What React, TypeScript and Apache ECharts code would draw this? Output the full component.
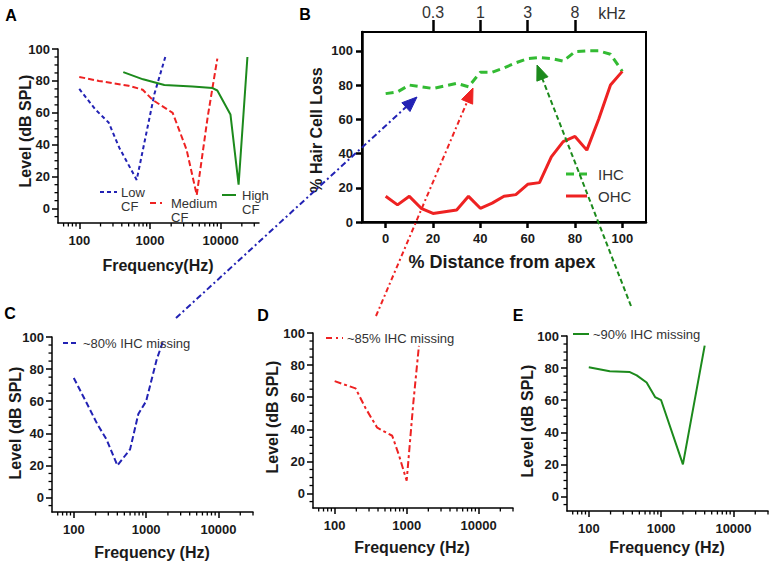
import React, { useEffect, useRef } from "react";
import * as echarts from "echarts";

const FONT = "'Liberation Sans', Arial, Helvetica, sans-serif";
const BLUE = "#2222b4";
const RED = "#ee2222";
const DKGREEN = "#1c8a1c";
const LTGREEN = "#33bb33";
const TXT = "#1a1a1a";

// ---------- Panel A: tuning curves (frequency in Hz, level in dB SPL)
const lowCfFreq = [100, 170, 260, 370, 650, 1160, 1650];
const lowCfLevel = [75, 62, 54, 38, 18, 72, 95];
const medCfFreq = [100, 190, 500, 790, 1100, 2100, 3300, 4600, 6600, 9000];
const medCfLevel = [82.5, 80, 77, 74.5, 68, 60, 37, 8.5, 58, 94];
const highCfFreq = [420, 800, 1600, 4000, 7700, 9000, 13800, 18000, 24000];
const highCfLevel = [85.5, 81, 77.5, 76.5, 75.5, 74, 59, 15, 95];

// ---------- Panel B: cochleogram
const distance = [0, 5, 10, 15, 20, 25, 30, 35, 40, 45, 50, 55, 60, 65, 70, 75, 80, 85, 90, 95, 100];
const ihcLoss = [75, 76, 80, 79, 78, 79.5, 81, 79, 87.5, 87.5, 90, 93, 95.5, 96, 95.5, 94, 99.5, 100, 100, 98, 88];
const ohcLoss = [15, 10, 15, 8, 5, 6, 7, 15, 8, 11, 15, 16, 22, 23, 38, 47, 50, 42, 60, 80, 88];
const distanceTicks = [0, 20, 40, 60, 80, 100];
const lossTicks = [0, 20, 40, 60, 80, 100];
const kHzTickPos = [20, 40, 60, 80];
const kHzTickLabels = ["0.3", "1", "3", "8"];

// ---------- Panels C, D, E
const cFreq = [100, 150, 210, 285, 400, 600, 780, 1000, 1400, 1700];
const cLevel = [74.5, 59, 46, 36, 20, 30, 52, 60, 86, 97];
const dFreq = [100, 195, 270, 390, 630, 780, 1000, 1240, 1480];
const dLevel = [70, 65.5, 53, 41, 36, 24, 8, 57, 92];
const eFreq = [100, 195, 370, 460, 630, 825, 1000, 2000, 4000];
const eLevel = [80.5, 78, 77.5, 75.5, 71, 62, 60, 20, 94];

// ---------- tick values
const levelTicks = [0, 20, 40, 60, 80, 100];
const levelMinorTicks = [-5, 5, 10, 15, 25, 30, 35, 45, 50, 55, 65, 70, 75, 85, 90, 95];
const freqTicks = [100, 1000, 10000];
const freqMinorTicks = [60, 70, 80, 90, 200, 300, 400, 500, 600, 700, 800, 900, 2000, 3000, 4000, 5000, 6000, 7000, 8000, 9000, 20000, 30000];

const LEVEL_MIN = -9;
const FREQ_MIN = 50;

const lg = (v: number) => Math.log10(v);
const pts = (xs: number[], ys: number[], fx: (v: number) => number = (v) => v) =>
  xs.map((x, i) => [fx(x), ys[i]]);

function freqAxis(gridIndex: number, maxHz: number) {
  const line = { color: "#000", width: 1.5 };
  return {
    type: "value", gridIndex, min: lg(FREQ_MIN), max: lg(maxHz), position: "bottom",
    axisLine: { show: true, onZero: false, lineStyle: line },
    axisTick: { show: true, customValues: freqTicks.map(lg), length: 6, lineStyle: line },
    axisLabel: {
      show: true, customValues: freqTicks.map(lg),
      formatter: (v: number) => String(Math.round(Math.pow(10, v))),
      margin: 11, fontSize: 13, fontWeight: "bold", color: TXT, fontFamily: FONT,
    },
    splitLine: { show: false },
  };
}

function levelAxis(gridIndex: number) {
  const line = { color: "#000", width: 1.5 };
  return {
    type: "value", gridIndex, min: LEVEL_MIN, max: 100, position: "left",
    axisLine: { show: true, onZero: false, lineStyle: line },
    axisTick: { show: true, customValues: levelTicks, length: 6, lineStyle: line },
    axisLabel: { show: true, customValues: levelTicks, margin: 8, fontSize: 13, fontWeight: "bold", color: TXT, fontFamily: FONT },
    splitLine: { show: false },
  };
}

// minor ticks drawn through the axes' own scales
function minorTicks(xAxisIndex: number, yAxisIndex: number, maxHz: number) {
  const xVals = freqMinorTicks.filter((f) => f <= maxHz).map((f) => [lg(f), LEVEL_MIN, 0]);
  const yVals = levelMinorTicks.map((v) => [lg(FREQ_MIN), v, 1]);
  return {
    type: "custom", xAxisIndex, yAxisIndex, silent: true, clip: false, z: 5,
    data: [...xVals, ...yVals],
    renderItem: (_p: any, api: any) => {
      const p = api.coord([api.value(0), api.value(1)]);
      const isX = api.value(2) === 0;
      return {
        type: "line",
        shape: isX
          ? { x1: p[0], y1: p[1], x2: p[0], y2: p[1] + 3.5 }
          : { x1: p[0], y1: p[1], x2: p[0] - 3.5, y2: p[1] },
        style: { stroke: "#000", lineWidth: 1.3 },
      };
    },
  };
}

function txt(text: string, x: number, y: number, opts: any = {}) {
  const { size = 13, weight = "normal", align = "left", rotation = 0, color = TXT } = opts;
  return {
    type: "text", x, y, rotation, z: 100,
    style: {
      text, fill: color, fontSize: size, fontWeight: weight, fontFamily: FONT,
      textAlign: align, align, textVerticalAlign: "middle", verticalAlign: "middle",
    },
  };
}

function seg(x1: number, y1: number, x2: number, y2: number, stroke: string, width: number, dash?: number[]) {
  return {
    type: "line", z: 100,
    shape: { x1, y1, x2, y2 },
    style: { stroke, lineWidth: width, lineDash: dash || null },
  };
}

function arrow(x1: number, y1: number, x2: number, y2: number, color: string, dash: number[]) {
  const dx = x2 - x1, dy = y2 - y1;
  const len = Math.sqrt(dx * dx + dy * dy);
  const ux = dx / len, uy = dy / len;
  const px = -uy, py = ux;
  const L = 15, W = 6;
  const bx = x2 - ux * L, by = y2 - uy * L;
  return [
    seg(x1, y1, bx + ux * 2, by + uy * 2, color, 2, dash),
    {
      type: "polygon", z: 100,
      shape: { points: [[x2, y2], [bx + px * W, by + py * W], [bx - px * W, by - py * W]] },
      style: { fill: color, stroke: color, lineWidth: 1 },
    },
  ];
}

export default function App() {
  const ref = useRef<HTMLDivElement>(null);
  useEffect(() => {
    document.body.style.margin = "0";
    const chart = echarts.init(ref.current!, null, { renderer: "svg" });
    const bLine = { color: "#000", width: 2.5 };

    const option: any = {
      animation: false,
      backgroundColor: "#fff",
      grid: [
        { left: 58, top: 49, width: 201, height: 174 },
        { left: 362, top: 32, width: 284, height: 190, show: true, borderColor: "#000", borderWidth: 2, backgroundColor: "transparent" },
        { left: 52, top: 337, width: 201, height: 175 },
        { left: 313, top: 333, width: 200, height: 175 },
        { left: 567, top: 336, width: 201, height: 175 },
      ],
      xAxis: [
        freqAxis(0, 35000),
        {
          type: "value", gridIndex: 1, min: -10, max: 110, position: "bottom",
          axisLine: { show: true, onZero: false, lineStyle: bLine },
          axisTick: { show: true, customValues: distanceTicks, length: 6, lineStyle: bLine },
          axisLabel: { show: true, customValues: distanceTicks, margin: 10, fontSize: 13, fontWeight: "bold", color: TXT, fontFamily: FONT },
          splitLine: { show: false },
        },
        {
          type: "value", gridIndex: 1, min: -10, max: 110, position: "top",
          axisLine: { show: true, onZero: false, lineStyle: { color: "#000", width: 2 } },
          axisTick: { show: true, customValues: kHzTickPos, length: 12, lineStyle: bLine },
          axisLabel: {
            show: true, customValues: kHzTickPos, margin: 12, fontSize: 16, color: "#333", fontFamily: FONT,
            formatter: (v: number) => kHzTickLabels[kHzTickPos.indexOf(Math.round(v))] ?? "",
          },
          splitLine: { show: false },
        },
        freqAxis(2, 30000),
        freqAxis(3, 30000),
        freqAxis(4, 30000),
      ],
      yAxis: [
        levelAxis(0),
        {
          type: "value", gridIndex: 1, min: 0, max: 111, position: "left",
          axisLine: { show: true, onZero: false, lineStyle: bLine },
          axisTick: { show: true, customValues: lossTicks, length: 6, lineStyle: bLine },
          axisLabel: { show: true, customValues: lossTicks, margin: 9, fontSize: 13, fontWeight: "bold", color: TXT, fontFamily: FONT },
          splitLine: { show: false },
        },
        levelAxis(2),
        levelAxis(3),
        levelAxis(4),
      ],
      series: [
        { name: "Low CF", type: "line", xAxisIndex: 0, yAxisIndex: 0, data: pts(lowCfFreq, lowCfLevel, lg), showSymbol: false, symbol: "none", lineStyle: { color: BLUE, width: 2, type: [4, 3] } },
        { name: "Medium CF", type: "line", xAxisIndex: 0, yAxisIndex: 0, data: pts(medCfFreq, medCfLevel, lg), showSymbol: false, symbol: "none", lineStyle: { color: RED, width: 2, type: [6, 3] } },
        { name: "High CF", type: "line", xAxisIndex: 0, yAxisIndex: 0, data: pts(highCfFreq, highCfLevel, lg), showSymbol: false, symbol: "none", lineStyle: { color: DKGREEN, width: 2 } },
        { name: "IHC", type: "line", xAxisIndex: 2, yAxisIndex: 1, data: pts(distance, ihcLoss), showSymbol: false, symbol: "none", lineStyle: { color: LTGREEN, width: 3, type: [8, 5] } },
        { name: "OHC", type: "line", xAxisIndex: 2, yAxisIndex: 1, data: pts(distance, ohcLoss), showSymbol: false, symbol: "none", lineStyle: { color: RED, width: 3 } },
        { name: "~80% IHC missing", type: "line", xAxisIndex: 3, yAxisIndex: 2, data: pts(cFreq, cLevel, lg), showSymbol: false, symbol: "none", lineStyle: { color: BLUE, width: 2, type: [6, 3] } },
        { name: "~85% IHC missing", type: "line", xAxisIndex: 4, yAxisIndex: 3, data: pts(dFreq, dLevel, lg), showSymbol: false, symbol: "none", lineStyle: { color: RED, width: 2, type: [7, 3, 3, 3] } },
        { name: "~90% IHC missing", type: "line", xAxisIndex: 5, yAxisIndex: 4, data: pts(eFreq, eLevel, lg), showSymbol: false, symbol: "none", lineStyle: { color: DKGREEN, width: 2 } },
        minorTicks(0, 0, 35000),
        minorTicks(3, 2, 30000),
        minorTicks(4, 3, 30000),
        minorTicks(5, 4, 30000),
      ],
      graphic: [
        // panel letters
        txt("A", 11, 15, { size: 16, weight: "bold", align: "center", color: "#000" }),
        txt("B", 305, 14, { size: 16, weight: "bold", align: "center", color: "#000" }),
        txt("C", 10, 313, { size: 16, weight: "bold", align: "center", color: "#000" }),
        txt("D", 263, 315, { size: 16, weight: "bold", align: "center", color: "#000" }),
        txt("E", 518, 315, { size: 16, weight: "bold", align: "center", color: "#000" }),
        // axis titles
        txt("Level (dB SPL)", 25, 131, { size: 16, weight: "bold", align: "center", rotation: Math.PI / 2 }),
        txt("Frequency(Hz)", 158, 265, { size: 16, weight: "bold", align: "center" }),
        txt("% Hair Cell Loss", 316, 130, { size: 16, weight: "bold", align: "center", rotation: Math.PI / 2 }),
        txt("% Distance from apex", 502, 262, { size: 18, weight: "bold", align: "center" }),
        txt("kHz", 612, 13, { size: 16, align: "center", color: "#333" }),
        txt("Level (dB SPL)", 15, 423, { size: 16, weight: "bold", align: "center", rotation: Math.PI / 2 }),
        txt("Frequency (Hz)", 152, 552, { size: 16, weight: "bold", align: "center" }),
        txt("Level (dB SPL)", 272, 417, { size: 16, weight: "bold", align: "center", rotation: Math.PI / 2 }),
        txt("Frequency (Hz)", 412, 547, { size: 16, weight: "bold", align: "center" }),
        txt("Level (dB SPL)", 527, 421, { size: 16, weight: "bold", align: "center", rotation: Math.PI / 2 }),
        txt("Frequency (Hz)", 667, 547, { size: 16, weight: "bold", align: "center" }),
        // legend A
        seg(100, 192, 117, 192, BLUE, 2, [4, 3]),
        txt("Low", 121, 192, { color: "#333" }),
        txt("CF", 121, 206, { color: "#333" }),
        seg(150, 203, 164, 203, RED, 2, [6, 4, 2, 4]),
        txt("Medium", 171, 203, { color: "#333" }),
        txt("CF", 171, 217, { color: "#333" }),
        seg(222, 195, 236, 195, DKGREEN, 2),
        txt("High", 242, 195, { color: "#333" }),
        txt("CF", 242, 209, { color: "#333" }),
        // legend B
        seg(566, 174, 587, 174, LTGREEN, 3, [8, 5]),
        txt("IHC", 598, 174, { size: 15, color: "#333" }),
        seg(566, 196, 587, 196, RED, 3),
        txt("OHC", 598, 196, { size: 15, color: "#333" }),
        // legends C, D, E
        seg(63, 343, 79, 343, BLUE, 2, [5, 3]),
        txt("~80% IHC missing", 83, 343, { size: 13, color: "#333" }),
        seg(326, 338, 343, 338, RED, 2, [6, 4, 2, 4]),
        txt("~85% IHC missing", 347, 338, { size: 13, color: "#333" }),
        seg(573, 334, 589, 334, DKGREEN, 2),
        txt("~90% IHC missing", 593, 334, { size: 13, color: "#333" }),
        // arrows linking panels
        ...arrow(176, 318, 417, 97, BLUE, [6, 3, 2, 3]),
        ...arrow(376, 316, 473, 88, RED, [5, 3, 2, 3]),
        ...arrow(631, 306, 537, 65, DKGREEN, [5, 3]),
      ],
    };
    chart.setOption(option);
    return () => chart.dispose();
  }, []);
  return <div ref={ref} style={{ width: 772, height: 564 }} />;
}
